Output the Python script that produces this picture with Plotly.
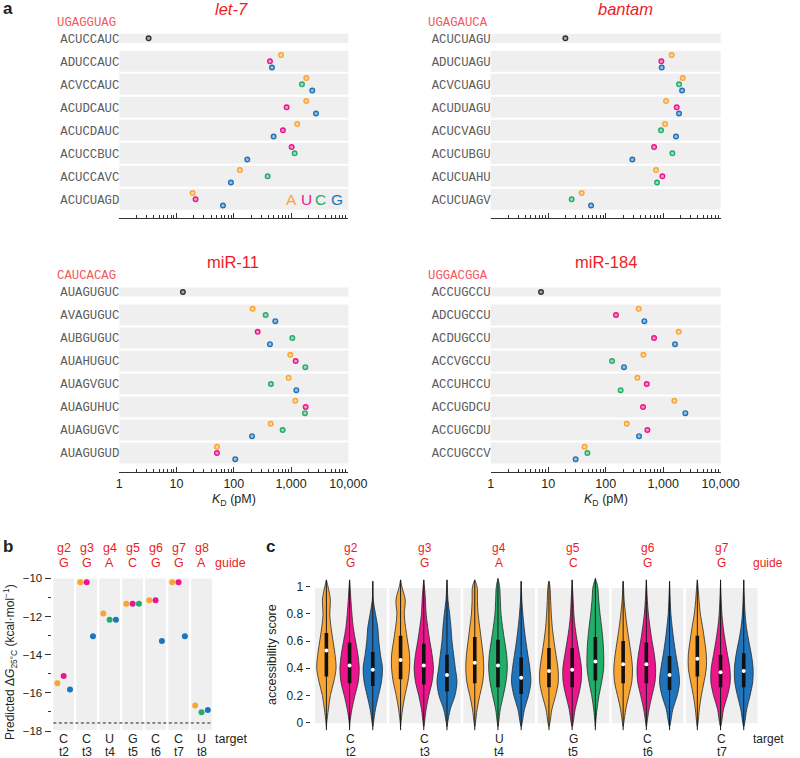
import plotly.graph_objects as go

W, H = 800, 758


def fx(p):
    return p / W


def fy(p):
    return 1 - p / H


NUCS = ["A", "U", "C", "G"]
COL = {"A": "#F9A533", "U": "#EC168C", "C": "#22AD6A", "G": "#1F74BB"}
RED = "#ED1C24"
GUIDE_RED = "#F2595E"
DARK = "#231F20"


def tint(hexc, f=0.55):
    r, g, b = int(hexc[1:3], 16), int(hexc[3:5], 16), int(hexc[5:7], 16)
    r, g, b = [int(v + (255 - v) * f) for v in (r, g, b)]
    return "#%02x%02x%02x" % (r, g, b)


def axid(letter, i):
    return letter if i == 1 else "%s%d" % (letter, i)


def axkey(letter, i):
    return "%saxis" % letter if i == 1 else "%saxis%d" % (letter, i)


# ---------------- panel a data (KD, pM) ----------------
let7_guide = "UGAGGUAG"
let7_rows = ["ACUCCAUC", "ADUCCAUC", "ACVCCAUC", "ACUDCAUC", "ACUCDAUC", "ACUCCBUC", "ACUCCAVC", "ACUCUAGD"]
let7_wt = 3.25
let7_A = [None, 667, 1846, 1846, 1285, None, 128, 19.1]
let7_U = [None, 428, None, 837, 722, 1024, None, 21.5]
let7_C = [None, None, 1550, None, None, 1155, 390, None]
let7_G = [None, 464, 2350, 2725, 496, 172, 89, 64.7]

bantam_guide = "UGAGAUCA"
bantam_rows = ["ACUCUAGU", "ADUCUAGU", "ACVCUAGU", "ACUDUAGU", "ACUCVAGU", "ACUCUBGU", "ACUCUAHU", "ACUCUAGV"]
bantam_wt = 19.9
bantam_A = [None, 1406, 2183, 1120, 1076, None, 750, 38.3]
bantam_U = [None, 929, None, 1718, None, 693, 968, None]
bantam_C = [None, None, 1885, None, 916, 1443, 782, 25.6]
bantam_G = [None, 942, 2127, 1885, 1671, 291, None, 55.6]

mir11_guide = "CAUCACAG"
mir11_rows = ["AUAGUGUC", "AVAGUGUC", "AUBGUGUC", "AUAHUGUC", "AUAGVGUC", "AUAGUHUC", "AUAGUGVC", "AUAGUGUD"]
mir11_wt = 12.9
mir11_A = [None, 213, None, 970, 907, 1186, 440, 50.8]
mir11_U = [None, None, 261, 1203, None, 1799, None, 50.8]
mir11_C = [None, 360, 1052, 1775, 446, 1750, 713, None]
mir11_G = [None, 531, 428, None, 1236, None, 208, 106]

mir184_guide = "UGGACGGA"
mir184_rows = ["ACCUGCCU", "ADCUGCCU", "ACDUGCCU", "ACCVGCCU", "ACCUHCCU", "ACCUGDCU", "ACCUGCDU", "ACCUGCCV"]
mir184_wt = 7.5
mir184_A = [None, 375, 1861, 452, 356, 1564, 232, 43]
mir184_U = [None, 151, 693, None, 517, 446, 531, None]
mir184_C = [None, None, None, 129, 182, None, None, 48]
mir184_G = [None, 470, 1606, 208, None, 2430, 380, 30]

kd_tickvals = [1, 10, 100, 1000, 10000]
kd_ticktext = ["1", "10", "100", "1,000", "10,000"]

# ---------------- panel b data (kcal/mol) ----------------
b_guide_pos = ["g2", "g3", "g4", "g5", "g6", "g7", "g8"]
b_guide_nt = ["G", "G", "A", "C", "G", "G", "A"]
b_target_nt = ["C", "C", "U", "G", "C", "C", "U"]
b_target_pos = ["t2", "t3", "t4", "t5", "t6", "t7", "t8"]
b_dG_A = [-15.50, -10.21, -11.85, -11.33, -11.15, -10.21, -16.67]
b_dG_U = [-15.12, -10.21, None, -11.33, -11.15, -10.21, None]
b_dG_C = [None, None, -12.17, -11.33, None, None, -17.02]
b_dG_G = [-15.83, -13.04, -12.17, None, -13.28, -13.04, -16.90]
b_threshold = -17.58

# ---------------- panel c data (accessibility) ----------------
c_guide_pos = ["g2", "g3", "g4", "g5", "g6", "g7"]
c_guide_nt = ["G", "G", "A", "C", "G", "G"]
c_target_nt = ["C", "C", "U", "G", "C", "C"]
c_target_pos = ["t2", "t3", "t4", "t5", "t6", "t7"]
c_nucs = [["A", "U", "G"], ["A", "U", "G"], ["A", "C", "G"], ["A", "U", "C"], ["A", "U", "G"], ["A", "U", "G"]]
c_levels = [0.0, 0.1, 0.2, 0.3, 0.4, 0.5, 0.6, 0.7, 0.8, 0.9, 1.0]
c_density = [
    [1, 6, 12, 22, 29, 26, 20, 14, 10, 12, 5],
    [1, 7, 16, 26, 29, 25, 18, 11, 7, 4, 1.5],
    [2, 8, 17, 26, 29, 23, 18, 15, 8, 1.5, 0.5],
    [1, 6, 13, 22, 27, 27, 21, 15, 11, 14, 4],
    [2, 7, 15, 25, 29, 25, 18, 12, 7, 5, 2],
    [2, 10, 24, 30, 25, 20, 15, 12, 8, 3, 1],
    [2, 7, 15, 24, 27, 25, 20, 15, 10, 8, 7],
    [2, 7, 16, 24, 28, 26, 20, 14, 9, 7, 5],
    [3, 10, 22, 29, 26, 20, 14, 9, 5, 2, 0.5],
    [3, 9, 20, 28, 27, 21, 15, 10, 7, 5, 3],
    [3, 9, 19, 27, 28, 22, 15, 9, 5, 3, 1],
    [1, 5, 11, 19, 25, 25, 23, 19, 14, 10, 7],
    [2, 8, 17, 26, 28, 24, 18, 12, 7, 3, 1],
    [2, 8, 17, 26, 28, 24, 17, 11, 6, 3, 1],
    [3, 10, 23, 30, 26, 19, 13, 8, 4, 2, 0.5],
    [2, 6, 12, 20, 27, 27, 22, 16, 9, 5, 2],
    [3, 9, 21, 29, 28, 21, 14, 8, 4, 2, 0.5],
    [3, 9, 19, 27, 28, 23, 15, 8, 4, 2, 0.5],
]
c_top = [1.05, 1.05, 1.04, 1.05, 1.05, 1.05, 1.05, 1.06, 1.04, 1.04, 1.05, 1.06, 1.04, 1.05, 1.04, 1.05, 1.05, 1.05]
c_bottom = -0.055
c_median = [0.53, 0.42, 0.39, 0.46, 0.42, 0.35, 0.44, 0.42, 0.33, 0.38, 0.39, 0.45, 0.43, 0.43, 0.35, 0.47, 0.37, 0.38]
c_q1 = [0.34, 0.29, 0.27, 0.32, 0.28, 0.23, 0.29, 0.26, 0.21, 0.26, 0.26, 0.31, 0.29, 0.29, 0.24, 0.34, 0.26, 0.26]
c_q3 = [0.66, 0.59, 0.52, 0.64, 0.58, 0.50, 0.63, 0.61, 0.48, 0.55, 0.55, 0.63, 0.60, 0.59, 0.49, 0.64, 0.50, 0.51]

fig = go.Figure()
shapes = []
annotations = []


def ann(text, xpx, ypx, size=12, color=DARK, xanchor="center", family=None, **kw):
    d = dict(text=text, x=fx(xpx), y=fy(ypx), xref="paper", yref="paper", showarrow=False,
             xanchor=xanchor, yanchor="middle", font=dict(size=size, color=color))
    if family:
        d["font"]["family"] = family
    d.update(kw)
    annotations.append(d)


# ---------------- panel a ----------------
panels = [
    dict(i=1, title="<i>let-7</i>", tx=232, ty=8.5, guide=let7_guide, rows=let7_rows, wt=let7_wt,
         vals=dict(A=let7_A, U=let7_U, C=let7_C, G=let7_G), x0=119.3, x1=348.3, r0=38.3, bottom=False),
    dict(i=2, title="<i>bantam</i>", tx=625, ty=8.5, guide=bantam_guide, rows=bantam_rows, wt=bantam_wt,
         vals=dict(A=bantam_A, U=bantam_U, C=bantam_C, G=bantam_G), x0=490.7, x1=720.7, r0=38.3, bottom=False),
    dict(i=3, title="miR-11", tx=232.7, ty=261.7, guide=mir11_guide, rows=mir11_rows, wt=mir11_wt,
         vals=dict(A=mir11_A, U=mir11_U, C=mir11_C, G=mir11_G), x0=119.3, x1=348.3, r0=292.0, bottom=True),
    dict(i=4, title="miR-184", tx=606, ty=261.7, guide=mir184_guide, rows=mir184_rows, wt=mir184_wt,
         vals=dict(A=mir184_A, U=mir184_U, C=mir184_C, G=mir184_G), x0=490.7, x1=720.7, r0=292.0, bottom=True),
]
ROW_PX = 23.0
Y_TOP, Y_BOT = -1.0, 7.81
minor_vals = [m * 10 ** e for e in range(4) for m in range(2, 10)]
layout_axes = {}
for p in panels:
    i = p["i"]
    xa, ya = axid("x", i), axid("y", i)
    nrow = len(p["rows"])
    slots = [-0.27, 0.0, 0.27]
    for n in NUCS:
        xs, ys = [], []
        for k in range(1, nrow):
            present = [m for m in NUCS if p["vals"][m][k] is not None]
            if p["vals"][n][k] is not None:
                xs.append(p["vals"][n][k])
                ys.append(k + slots[present.index(n)])
        fig.add_trace(go.Scatter(x=xs, y=ys, xaxis=xa, yaxis=ya, mode="markers", showlegend=False,
                                 marker=dict(size=4.6, color=tint(COL[n], 0.55),
                                             line=dict(color=COL[n], width=1.4))))
    fig.add_trace(go.Scatter(x=[p["wt"]], y=[0], xaxis=xa, yaxis=ya, mode="markers", showlegend=False,
                             marker=dict(size=4.6, color="#aaaaaa", line=dict(color="#333333", width=1.4))))
    top_px = p["r0"] + Y_TOP * ROW_PX
    bot_px = p["r0"] + Y_BOT * ROW_PX
    layout_axes[axkey("x", i)] = dict(
        type="log", range=[0, 4], domain=[fx(p["x0"]), fx(p["x1"])], anchor=ya,
        showline=True, linecolor="#333333", linewidth=1, ticks="inside", ticklen=4.5, tickwidth=1,
        tickcolor="#333333", tickmode="array", tickvals=kd_tickvals, ticktext=kd_ticktext,
        showticklabels=p["bottom"], tickfont=dict(size=12.5, color=DARK),
        minor=dict(tickmode="array", tickvals=minor_vals, ticks="inside", ticklen=2.5,
                   tickcolor="#333333", tickwidth=1, showgrid=False),
        showgrid=False, zeroline=False, fixedrange=True)
    layout_axes[axkey("y", i)] = dict(
        range=[Y_BOT, Y_TOP], domain=[fy(bot_px), fy(top_px)], anchor=xa,
        tickmode="array", tickvals=list(range(nrow)), ticktext=p["rows"], ticks="",
        tickfont=dict(family="Liberation Mono, DejaVu Sans Mono, monospace", size=12.3, color="#5c5c5c"),
        showline=False, showgrid=False, zeroline=False, ticklabelstandoff=-1)
    for k in range(nrow):
        h = 0.2 if k == 0 else 0.457
        shapes.append(dict(type="rect", xref="%s domain" % xa, yref=ya, x0=0, x1=1, y0=k - h, y1=k + h,
                           fillcolor="#EFEFEF", line=dict(width=0), layer="below"))
    ann(p["title"], p["tx"], p["ty"], size=16.5, color=RED)
    ann(p["guide"], p["x0"] - 1, p["r0"] - 0.68 * ROW_PX, size=12.3, color=GUIDE_RED, xanchor="right",
        family="Liberation Mono, DejaVu Sans Mono, monospace")
    if p["bottom"]:
        ann("<i>K</i><sub>D</sub> (pM)", (p["x0"] + p["x1"]) / 2, 500, size=12.5)

# A U C G key
for n, xp in zip(NUCS, [291.7, 306.7, 320.3, 337.3]):
    ann(n, xp, 199.5, size=15.5, color=COL[n])

ann("<b>a</b>", 1, 8.5, size=17, xanchor="left")
ann("<b>b</b>", 1, 546.5, size=17, xanchor="left")
ann("<b>c</b>", 264, 546.5, size=17, xanchor="left")

# ---------------- panel b ----------------
b_vals = dict(A=b_dG_A, U=b_dG_U, C=b_dG_C, G=b_dG_G)
nb = len(b_guide_pos)
for n in NUCS:
    xs, ys = [], []
    for k in range(nb):
        present = [m for m in NUCS if b_vals[m][k] is not None]
        if b_vals[n][k] is not None:
            xs.append(k + [-0.275, 0, 0.275][present.index(n)])
            ys.append(b_vals[n][k])
    fig.add_trace(go.Scatter(x=xs, y=ys, xaxis="x5", yaxis="y5", mode="markers", showlegend=False,
                             marker=dict(size=6, color=COL[n])))
for k in range(nb):
    shapes.append(dict(type="rect", xref="x5", yref="y5", x0=k - 0.45, x1=k + 0.45, y0=-17.95, y1=-10,
                       fillcolor="#EFEFEF", line=dict(width=0), layer="below"))
shapes.append(dict(type="line", xref="x5", yref="y5", x0=-0.45, x1=nb - 1 + 0.45, y0=b_threshold,
                   y1=b_threshold, line=dict(color="#222222", width=1, dash="3px,2.5px")))
layout_axes["xaxis5"] = dict(range=[-0.5, 6.5], domain=[fx(52.2), fx(213)], anchor="y5", visible=False)
layout_axes["yaxis5"] = dict(range=[-18, -10], domain=[fy(731), fy(578.3)], anchor="free", position=fx(50.5),
                             tickmode="array", tickvals=[-10, -12, -14, -16, -18],
                             ticktext=["\u221210", "\u221212", "\u221214", "\u221216", "\u221218"],
                             ticks="outside", ticklen=6, tickwidth=1, tickcolor="#333333",
                             minor=dict(tickmode="array", tickvals=[-11, -13, -15, -17], ticks="outside",
                                        ticklen=3, tickcolor="#333333", showgrid=False),
                             tickfont=dict(size=11.5, color=DARK), showline=False, showgrid=False,
                             zeroline=False)
B_C0, B_P = 63.7, 22.97
for k in range(nb):
    cx = B_C0 + k * B_P
    ann(b_guide_pos[k], cx, 548.3, size=12.5, color=RED)
    ann(b_guide_nt[k], cx, 563.3, size=12.5, color=RED)
    ann(b_target_nt[k], cx, 739.3, size=12.5)
    ann(b_target_pos[k], cx, 751.8, size=12)
ann("guide", 213.5, 563.3, size=12.5, color=RED, xanchor="left")
ann("target", 213.5, 739.3, size=12.5, xanchor="left")
ann("Predicted \u0394<i>G</i><sub>25\u00b0C</sub> (kcal\u00b7mol<sup>\u22121</sup>)", 10, 662, size=12,
    textangle=-90)

# ---------------- panel c ----------------
G_P = 3.134
SCALE = 1 / 71.0
idx = 0
xs_w, ys_w, xs_b, ys_b, xs_m, ys_m = [], [], [], [], [], []
for g in range(len(c_guide_pos)):
    for j, n in enumerate(c_nucs[g]):
        xc = g * G_P + (j - 1) * 0.98 - 0.05
        dens = c_density[idx]
        ylev = [c_bottom + 0.025] + c_levels + [c_top[idx]]
        hw = [0] + [d * SCALE for d in dens] + [0]
        px = [xc + h for h in hw] + [xc - h for h in reversed(hw)]
        py = ylev + list(reversed(ylev))
        fig.add_trace(go.Scatter(x=px, y=py, xaxis="x6", yaxis="y6", mode="lines", fill="toself",
                                 fillcolor=COL[n], line=dict(color="#2a2a2a", width=0.8, shape="spline",
                                                             smoothing=0.9),
                                 showlegend=False, hoverinfo="skip"))
        xs_w += [xc, xc, None]
        ys_w += [c_bottom, c_top[idx], None]
        xs_b += [xc, xc, None]
        ys_b += [c_q1[idx], c_q3[idx], None]
        xs_m.append(xc)
        ys_m.append(c_median[idx])
        idx += 1
fig.add_trace(go.Scatter(x=xs_w, y=ys_w, xaxis="x6", yaxis="y6", mode="lines",
                         line=dict(color="#1a1a1a", width=1), showlegend=False))
fig.add_trace(go.Scatter(x=xs_b, y=ys_b, xaxis="x6", yaxis="y6", mode="lines",
                         line=dict(color="#111111", width=3.6), showlegend=False))
fig.add_trace(go.Scatter(x=xs_m, y=ys_m, xaxis="x6", yaxis="y6", mode="markers",
                         marker=dict(color="white", size=4), showlegend=False))
for g in range(len(c_guide_pos)):
    cx = g * G_P
    shapes.append(dict(type="rect", xref="x6", yref="y6", x0=cx - 1.514, x1=cx + 1.514, y0=-0.005, y1=0.99,
                       fillcolor="#EFEFEF", line=dict(width=0), layer="below"))
layout_axes["xaxis6"] = dict(range=[-1.6, 17.27], domain=[fx(312.9), fx(759.6)], anchor="y6", visible=False)
layout_axes["yaxis6"] = dict(range=[-0.07, 1.08], domain=[fy(732.2), fy(575.8)], anchor="free",
                             position=fx(309.5), tickmode="array", tickvals=[0, 0.2, 0.4, 0.6, 0.8, 1],
                             ticktext=["0", "0.2", "0.4", "0.6", "0.8", "1"], ticks="outside", ticklen=4,
                             tickwidth=1, tickcolor="#333333", tickfont=dict(size=12, color=DARK),
                             showline=False, showgrid=False, zeroline=False)
C_C0, C_P = 350.8, 74.18
for g in range(len(c_guide_pos)):
    cx = C_C0 + g * C_P
    ann(c_guide_pos[g], cx, 548.3, size=12, color=RED)
    ann(c_guide_nt[g], cx, 563.3, size=12, color=RED)
    ann(c_target_nt[g], cx, 739.3, size=12)
    ann(c_target_pos[g], cx, 751.8, size=12)
ann("guide", 751, 563.3, size=12, color=RED, xanchor="left")
ann("target", 750.5, 739.3, size=12, xanchor="left")
ann("accessibility score", 272, 655, size=12.5, textangle=-90)

fig.update_layout(
    width=W, height=H, margin=dict(l=0, r=0, t=0, b=0), autosize=False,
    paper_bgcolor="white", plot_bgcolor="white", template="none",
    font=dict(family="Liberation Sans, Arial, Helvetica, sans-serif", color=DARK),
    shapes=shapes, annotations=annotations, showlegend=False, **layout_axes)

fig.write_html("out.html")
